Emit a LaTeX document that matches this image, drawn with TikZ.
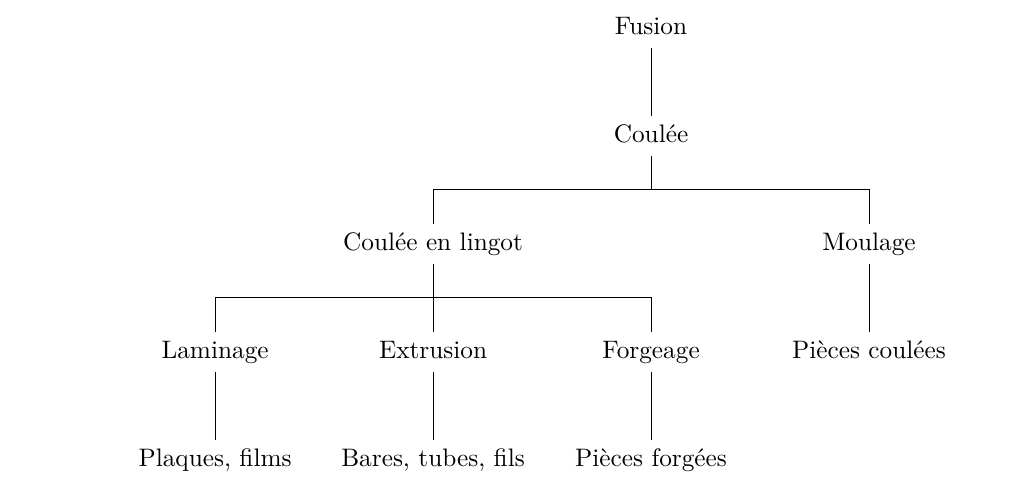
\documentclass[tikz,border=0pt]{standalone}
\usepackage{fontspec}
\begin{document}
\begin{tikzpicture}
    \def\levelgap{1.5}
    \def\sibgap{3.03}
    \tikzset{step box/.style={align=center, text height=1.6ex, text depth=0.4ex}}

    \useasboundingbox (-9.05,0.39) rectangle (4.99,-6.42);

    % Levels of the tree
    \node[step box] (fusion) at (0,0) {Fusion};
    \node[step box] (coulee) at (0,-\levelgap) {Coulée};
    \node[step box] (lingot) at (-\sibgap,-2*\levelgap) {Coulée en lingot};
    \node[step box] (moulage) at (\sibgap,-2*\levelgap) {Moulage};
    \node[step box] (laminage) at (-2*\sibgap,-3*\levelgap) {Laminage};
    \node[step box] (extrusion) at (-\sibgap,-3*\levelgap) {Extrusion};
    \node[step box] (forgeage) at (0,-3*\levelgap) {Forgeage};
    \node[step box] (piecescoulees) at (\sibgap,-3*\levelgap) {Pièces coulées};
    \node[step box] (plaques) at (-2*\sibgap,-4*\levelgap) {Plaques, films};
    \node[step box] (bares) at (-\sibgap,-4*\levelgap) {Bares, tubes, fils};
    \node[step box] (piecesforgees) at (0,-4*\levelgap) {Pièces forgées};

    % Forks
    \coordinate (forkone) at (0,-1.5*\levelgap);
    \coordinate (forktwo) at (-\sibgap,-2.5*\levelgap);

    \draw (fusion) -- (coulee);
    \draw (coulee) -- (forkone) -| (lingot);
    \draw (forkone) -| (moulage);
    \draw (lingot) -- (forktwo) -| (laminage);
    \draw (forktwo) -- (extrusion);
    \draw (forktwo) -| (forgeage);
    \draw (moulage) -- (piecescoulees);
    \draw (laminage) -- (plaques);
    \draw (extrusion) -- (bares);
    \draw (forgeage) -- (piecesforgees);
\end{tikzpicture}
\end{document}
